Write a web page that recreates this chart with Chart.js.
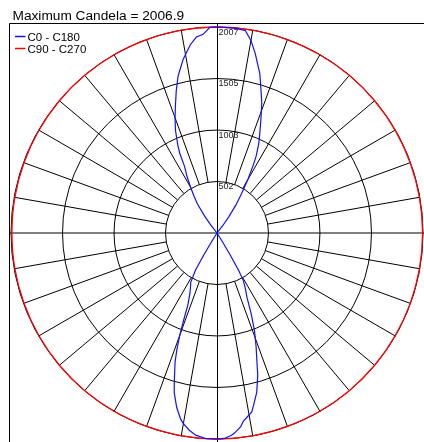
<!DOCTYPE html>
<html>
<head>
<meta charset="utf-8">
<script src="https://cdn.jsdelivr.net/npm/chart.js@4/dist/chart.umd.min.js"></script>
<style>
  body { margin: 0; background: #fff; overflow: hidden; }
  canvas { display: block; }
</style>
</head>
<body>
<canvas id="myChart" width="424" height="442"></canvas>
<script>
const titleText = 'Maximum Candela = 2006.9';
const seriesNames = ['C0 - C180', 'C90 - C270'];
const seriesColors = ['#1010ff', '#ff0000'];

// one category per degree, clockwise from the top
const categories = Array.from({ length: 360 }, (_, i) => i);

const ringTicks = [502, 1003, 1505, 2007];
const scaleMax = 2007;

// C0 - C180 (angle in degrees, candela)
const blueAngles = [0, 3, 5, 8, 10, 12, 15, 17, 19, 21, 23, 25, 27, 28, 30, 32, 34, 36, 38, 40,
  147, 148, 149, 150, 151, 153, 155, 157, 159, 161, 163, 164, 166, 168, 169, 171, 172, 173, 175, 176, 178,
  180, 183, 186, 188, 190, 191, 193, 195, 196, 198, 199, 200, 201, 202, 204, 206, 208, 210, 211, 212, 213,
  320, 322, 324, 326, 328, 330, 332, 334, 335, 336, 338, 340, 342, 344, 346, 347, 349, 351, 352, 354, 356, 358];
const blueValues = [2007, 2003, 2003, 1990, 1904, 1790, 1610, 1465, 1340, 1195, 1070, 965, 840, 760, 600, 450, 330, 200, 90, 0,
  0, 100, 250, 420, 530, 610, 690, 850, 1020, 1170, 1335, 1440, 1600, 1715, 1775, 1825, 1850, 1900, 1957, 1978, 2003,
  2007, 2007, 1980, 1940, 1885, 1850, 1745, 1610, 1510, 1322, 1200, 1060, 900, 760, 650, 590, 545, 420, 250, 100, 0,
  0, 100, 210, 340, 420, 515, 620, 720, 860, 940, 1080, 1195, 1310, 1440, 1570, 1620, 1725, 1810, 1855, 1920, 1940, 2004];

// C90 - C270
const redAngles = [0, 10, 20, 30, 40, 50, 60, 70, 80, 90, 100, 110, 120, 130, 140, 150, 160, 170,
  180, 190, 200, 210, 220, 230, 240, 250, 260, 270, 280, 290, 300, 310, 320, 330, 340, 350];
const redValues = [2007, 2006, 2006, 2005, 2005, 2004, 2004, 2003, 2003, 2003, 2003, 2004, 2004, 2005, 2005, 2006, 2006, 2007,
  2007, 2006, 2006, 2005, 2005, 2004, 2003, 2001, 2000, 1998, 2000, 2001, 2003, 2004, 2005, 2006, 2006, 2007];

const toSeries = (angles, values) => {
    const data = new Array(categories.length).fill(null);
    angles.forEach((a, i) => { data[a] = values[i]; });
    return data;
};

const polarDecor = {
    id: 'polarDecor',
    beforeDatasetsDraw(chart) {
        const s = chart.scales.r;
        const ctx = chart.ctx;
        ctx.save();
        ctx.strokeStyle = '#000';
        ctx.lineWidth = 1;

        // spokes every 10 degrees, from the first ring out
        ctx.beginPath();
        for (let a = 10; a < 360; a += 10) {
            if (a % 90 === 0) continue;
            const p1 = s.getPointPositionForValue(a, ringTicks[0]);
            const p2 = s.getPointPositionForValue(a, scaleMax);
            ctx.moveTo(p1.x, p1.y);
            ctx.lineTo(p2.x, p2.y);
        }
        ctx.stroke();

        // cross through the centre and the frame
        ctx.beginPath();
        ctx.moveTo(9.5, s.yCenter);
        ctx.lineTo(chart.width, s.yCenter);
        ctx.moveTo(s.xCenter + 0.5, 23.5);
        ctx.lineTo(s.xCenter + 0.5, chart.height);
        ctx.moveTo(9.5, chart.height);
        ctx.lineTo(9.5, 23.5);
        ctx.lineTo(chart.width, 23.5);
        ctx.stroke();

        // ring values
        ctx.font = '9px "Liberation Sans", Arial, sans-serif';
        ctx.fillStyle = '#222';
        ctx.textAlign = 'left';
        ctx.textBaseline = 'alphabetic';
        ringTicks.forEach(v => {
            const y = s.yCenter - s.getDistanceFromCenterForValue(v);
            ctx.fillText(String(v), s.xCenter + 1.5, y + 7.5);
        });
        ctx.restore();
    },
    afterDraw(chart) {
        const ctx = chart.ctx;
        ctx.save();
        ctx.fillStyle = '#000';
        ctx.textAlign = 'left';
        ctx.textBaseline = 'alphabetic';
        ctx.font = '13.7px "Liberation Sans", Arial, sans-serif';
        ctx.fillText(titleText, 12.5, 19.5);

        ctx.font = '11.5px "Liberation Sans", Arial, sans-serif';
        seriesNames.forEach((name, i) => {
            const y = 36.5 + i * 12;
            ctx.strokeStyle = seriesColors[i];
            ctx.lineWidth = 1.5;
            ctx.beginPath();
            ctx.moveTo(15, y);
            ctx.lineTo(25.5, y);
            ctx.stroke();
            ctx.fillText(name, 27.5, y + 4.2);
        });
        ctx.restore();
    }
};

const ctx = document.getElementById('myChart').getContext('2d');
new Chart(ctx, {
    type: 'radar',
    data: {
        labels: categories,
        datasets: [{
            label: seriesNames[0],
            data: toSeries(blueAngles, blueValues),
            borderColor: seriesColors[0],
            borderWidth: 1.2,
            tension: 0,
            fill: false
        }, {
            label: seriesNames[1],
            data: toSeries(redAngles, redValues),
            borderColor: seriesColors[1],
            borderWidth: 1.3,
            tension: 0.335,
            fill: false
        }]
    },
    options: {
        responsive: false,
        animation: false,
        devicePixelRatio: 1,
        spanGaps: true,
        layout: { padding: { left: 11, right: -3, top: 25, bottom: 1 } },
        elements: { point: { radius: 0, hoverRadius: 0 } },
        plugins: {
            legend: { display: false },
            title: { display: false },
            tooltip: { enabled: false }
        },
        scales: {
            r: {
                min: 0,
                max: scaleMax,
                afterBuildTicks: sc => {
                    sc.ticks = [0, ...ringTicks].map(v => ({ value: v }));
                },
                ticks: { display: false },
                pointLabels: { display: false },
                angleLines: { display: false },
                grid: { circular: true, color: '#000', lineWidth: 1 }
            }
        }
    },
    plugins: [polarDecor]
});
</script>
</body>
</html>
